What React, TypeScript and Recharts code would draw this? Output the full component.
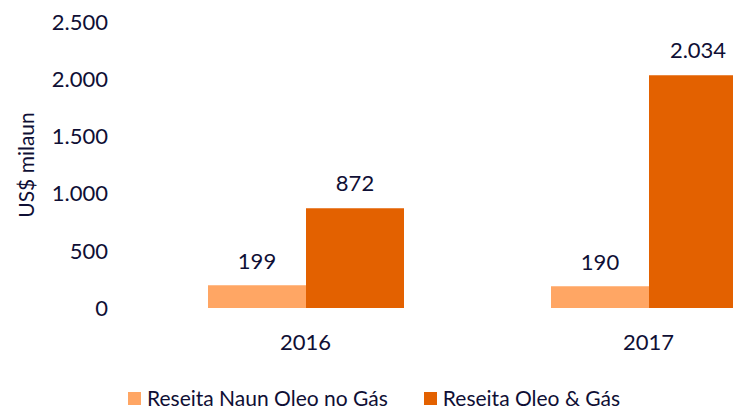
import { BarChart, Bar, XAxis, YAxis, LabelList } from 'recharts';

const years = ['2016', '2017'];
const naunOleo = [199, 190];
const oleoGas = [872, 2034];
const yTicks = [0, 500, 1000, 1500, 2000, 2500];
const seriesNames = ['Reseita Naun Oleo no Gás', 'Reseita Oleo & Gás'];
const yLabel = 'US$ milaun';

const LIGHT = '#FFA664';
const DARK = '#E36100';
const TEXT = '#0f0f35';
const FONT = 'Lato, "Open Sans", sans-serif';

const data = years.map((y, i) => ({ year: y, naun: naunOleo[i], oleo: oleoGas[i] }));

function fmt(n: unknown) {
  const v = Number(n);
  return String(v).replace(/\B(?=(\d{3})+(?!\d))/g, '.');
}

function YTitle({ viewBox }: any) {
  const cy = viewBox.y + viewBox.height / 2;
  return (
    <text x={25} y={cy} transform={`rotate(-90 25 ${cy})`} textAnchor="middle" dominantBaseline="central"
      fill={TEXT} fontSize={21} fontFamily={FONT}>
      {yLabel}
    </text>
  );
}

export default function App() {
  const colors = [LIGHT, DARK];
  return (
    <div style={{ position: 'fixed', left: 0, top: 0, width: 733, height: 410, overflow: 'hidden', background: '#fff', fontFamily: FONT }}>
      <BarChart width={820} height={410} data={data} margin={{ top: 22, right: 0, left: 0, bottom: 62 }} barGap={0} barSize={98}>
        <XAxis
          dataKey="year"
          height={40}
          axisLine={false}
          tickLine={false}
          tickSize={0}
          tickMargin={26}
          tick={{ fill: TEXT, fontSize: 22, fontFamily: FONT }}
        />
        <YAxis
          width={134}
          domain={[0, 2500]}
          ticks={yTicks}
          tickFormatter={fmt}
          axisLine={false}
          tickLine={false}
          tickSize={0}
          tickMargin={26}
          tick={{ fill: TEXT, fontSize: 22, fontFamily: FONT }}
          label={<YTitle />}
        />
        <Bar dataKey="naun" name={seriesNames[0]} fill={LIGHT} isAnimationActive={false}>
          <LabelList dataKey="naun" position="top" offset={16} formatter={fmt} fill={TEXT} fontSize={22} fontFamily={FONT} />
        </Bar>
        <Bar dataKey="oleo" name={seriesNames[1]} fill={DARK} isAnimationActive={false}>
          <LabelList dataKey="oleo" position="top" offset={17} formatter={fmt} fill={TEXT} fontSize={22} fontFamily={FONT} />
        </Bar>
      </BarChart>
      <div style={{ position: 'absolute', top: 386, left: 128, display: 'flex', color: TEXT, fontSize: 21, lineHeight: '24px' }}>
        {seriesNames.map((n, i) => (
          <div key={n} style={{ display: 'flex', alignItems: 'center', marginRight: i === 0 ? 36 : 0 }}>
            <span style={{ width: 13, height: 13, background: colors[i], display: 'inline-block', marginRight: 6 }} />
            <span>{n}</span>
          </div>
        ))}
      </div>
    </div>
  );
}
